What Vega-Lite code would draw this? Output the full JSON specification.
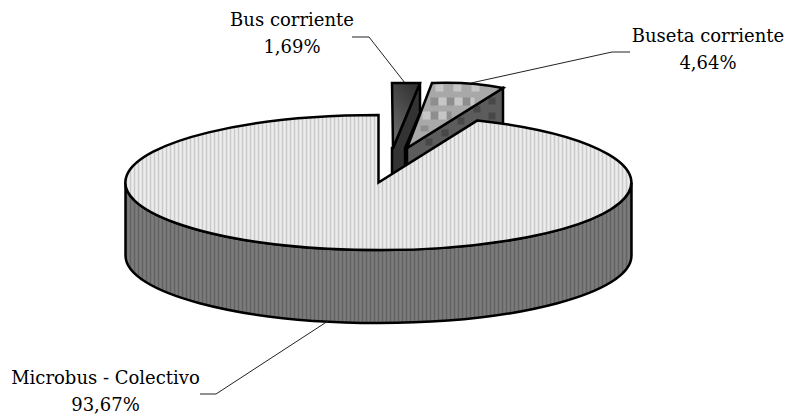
{
"$schema":"https://vega.github.io/schema/vega-lite/v6.json",
"width":788,"height":415,"padding":0,
"autosize":{"type":"fit","contains":"padding"},
"background":"white",
"data":{"values":[
{"segment":"Microbus - Colectivo","share":93.67,"part":"side fill"},
{"segment":"Microbus - Colectivo","share":93.67,"part":"side stripes"},
{"segment":"Microbus - Colectivo","share":93.67,"part":"side outline"},
{"segment":"Bus corriente","share":1.69,"part":"bus wall"},
{"segment":"Bus corriente","share":1.69,"part":"bus face"},
{"segment":"Buseta corriente","share":4.64,"part":"buseta wall"},
{"segment":"Buseta corriente","share":4.64,"part":"buseta wall checks"},
{"segment":"Buseta corriente","share":4.64,"part":"buseta face"},
{"segment":"Buseta corriente","share":4.64,"part":"buseta dark checks"},
{"segment":"Buseta corriente","share":4.64,"part":"buseta light checks"},
{"segment":"Buseta corriente","share":4.64,"part":"buseta outline"},
{"segment":"Microbus - Colectivo","share":93.67,"part":"top fill"},
{"segment":"Microbus - Colectivo","share":93.67,"part":"top stripes"},
{"segment":"Microbus - Colectivo","share":93.67,"part":"top outline"},
{"segment":"Bus corriente","share":1.69,"part":"bus leader"},
{"segment":"Buseta corriente","share":4.64,"part":"buseta leader"},
{"segment":"Microbus - Colectivo","share":93.67,"part":"microbus leader"}
]},
"encoding":{
"x":{"datum":0,"type":"quantitative","axis":null,"scale":{"domain":[-378.5,409.5],"nice":false,"zero":false}},
"y":{"datum":0,"type":"quantitative","axis":null,"scale":{"domain":[-182.5,232.5],"nice":false,"zero":false,"reverse":true}}
},
"layer":[
{"transform":[{"filter":"datum.part !== 'bus face'"}],
"mark":{"type":"point","filled":true,"opacity":1,"size":4},
"encoding":{
"shape":{"field":"part","type":"nominal","legend":null,"scale":{
"domain":["side fill","side stripes","side outline","bus wall","buseta wall","buseta wall checks","buseta face","buseta dark checks","buseta light checks","buseta outline","top fill","top stripes","top outline","bus leader","buseta leader","microbus leader"],
"range":[
"M-253 0V73A253 67.5 0 0 0 253 73V0A253 67.5 0 0 1 -253 0Z",
"M-252 6v73M-248 13v73M-244 18v73M-240 21v73M-236 24v73M-232 27v73M-228 29v73M-224 31v73M-220 33v73M-216 35v73M-212 37v73M-208 38v73M-204 40v73M-200 41v73M-196 43v73M-192 44v73M-188 45v73M-184 46v73M-180 47v73M-176 48v73M-172 49v73M-168 50v73M-164 51v73M-160 52v73M-156 53v73M-152 54v73M-148 55v73M-144 55v73M-140 56v73M-136 57v73M-132 58v73M-128 58v73M-124 59v73M-120 59v73M-116 60v73M-112 60v73M-108 61v73M-104 61v73M-100 62v73M-96 62v73M-92 63v73M-88 63v73M-84 64v73M-80 64v73M-76 64v73M-72 65v73M-68 65v73M-64 65v73M-60 66v73M-56 66v73M-52 66v73M-48 66v73M-44 66v73M-40 67v73M-36 67v73M-32 67v73M-28 67v73M-24 67v73M-20 67v73M-16 67v73M-12 67v73M-8 67v73M-4 67v73M0 67v73M4 67v73M8 67v73M12 67v73M16 67v73M20 67v73M24 67v73M28 67v73M32 67v73M36 67v73M40 67v73M44 66v73M48 66v73M52 66v73M56 66v73M60 66v73M64 65v73M68 65v73M72 65v73M76 64v73M80 64v73M84 64v73M88 63v73M92 63v73M96 62v73M100 62v73M104 61v73M108 61v73M112 60v73M116 60v73M120 59v73M124 59v73M128 58v73M132 58v73M136 57v73M140 56v73M144 55v73M148 55v73M152 54v73M156 53v73M160 52v73M164 51v73M168 50v73M172 49v73M176 48v73M180 47v73M184 46v73M188 45v73M192 44v73M196 43v73M200 41v73M204 40v73M208 38v73M212 37v73M216 35v73M220 33v73M224 31v73M228 29v73M232 27v73M236 24v73M240 21v73M244 18v73M248 13v73M252 6v73",
"M-253 0V73A253 67.5 0 0 0 253 73V0A253 67.5 0 0 1 -253 0Z",
"M14.5 -34.5L41.5 -99.5V-69.5L26.5 -34.5V-15.5L13.5 -7V-34.5Z",
"M28.5 -34.5L124.5 -94.5V-55L28.5 -8Z",
"M47 -44h7v7h-7ZM63 -53h7v7h-7ZM79 -65h7v7h-7ZM95 -77h7v7h-7ZM110 -85h7v7h-7ZM110 -70h7v7h-7Z",
"M28.5 -34.5L53.5 -99.5Q92 -101 124.5 -94.5Z",
"M52 -85h8v8h-8ZM68 -85h8v8h-8ZM84 -85h8v8h-8ZM52 -71h8v8h-8ZM68 -71h5v8h-5ZM42 -57h8v6h-8Z",
"M57 -99h8v8h-8ZM75 -99h8v8h-8ZM93 -98h8v7h-8ZM60 -85h8v8h-8ZM76 -85h8v8h-8ZM92 -85h4v8h-4ZM44 -71h8v8h-8ZM60 -71h8v8h-8Z",
"M28.5 -34.5L53.5 -99.5Q92 -101 124.5 -94.5Z",
"M0 0V-67.5A253 67.5 0 1 0 99 -62.1Z",
"M-252 -6V6M-248 -13V13M-244 -18V18M-240 -21V21M-236 -24V24M-232 -27V27M-228 -29V29M-224 -31V31M-220 -33V33M-216 -35V35M-212 -37V37M-208 -38V38M-204 -40V40M-200 -41V41M-196 -43V43M-192 -44V44M-188 -45V45M-184 -46V46M-180 -47V47M-176 -48V48M-172 -49V49M-168 -50V50M-164 -51V51M-160 -52V52M-156 -53V53M-152 -54V54M-148 -55V55M-144 -55V55M-140 -56V56M-136 -57V57M-132 -58V58M-128 -58V58M-124 -59V59M-120 -59V59M-116 -60V60M-112 -60V60M-108 -61V61M-104 -61V61M-100 -62V62M-96 -62V62M-92 -63V63M-88 -63V63M-84 -64V64M-80 -64V64M-76 -64V64M-72 -65V65M-68 -65V65M-64 -65V65M-60 -66V66M-56 -66V66M-52 -66V66M-48 -66V66M-44 -66V66M-40 -67V67M-36 -67V67M-32 -67V67M-28 -67V67M-24 -67V67M-20 -67V67M-16 -67V67M-12 -67V67M-8 -67V67M-4 -67V67M0 0V67M4 -3V67M8 -5V67M12 -8V67M16 -10V67M20 -13V67M24 -15V67M28 -18V67M32 -20V67M36 -23V67M40 -25V67M44 -28V66M48 -30V66M52 -33V66M56 -35V66M60 -38V66M64 -40V65M68 -43V65M72 -45V65M76 -48V64M80 -50V64M84 -53V64M88 -55V63M92 -58V63M96 -60V62M100 -62V62M104 -61V61M108 -61V61M112 -60V60M116 -60V60M120 -59V59M124 -59V59M128 -58V58M132 -58V58M136 -57V57M140 -56V56M144 -55V55M148 -55V55M152 -54V54M156 -53V53M160 -52V52M164 -51V51M168 -50V50M172 -49V49M176 -48V48M180 -47V47M184 -46V46M188 -45V45M192 -44V44M196 -43V43M200 -41V41M204 -40V40M208 -38V38M212 -37V37M216 -35V35M220 -33V33M224 -31V31M228 -29V29M232 -27V27M236 -24V24M240 -21V21M244 -18V18M248 -13V13M252 -6V6",
"M0 0V-67.5A253 67.5 0 1 0 99 -62.1Z",
"M-26.5 -145.5H-9.5L26.5 -99.5",
"M92.5 -99.5L233.5 -130.5H251.5",
"M-50.5 138.5L-162.5 211.5H-178.5"
]}},
"fill":{"field":"part","type":"nominal","legend":null,"scale":{
"domain":["side fill","side stripes","side outline","bus wall","buseta wall","buseta wall checks","buseta face","buseta dark checks","buseta light checks","buseta outline","top fill","top stripes","top outline","bus leader","buseta leader","microbus leader"],
"range":["#7c7c7c","transparent","transparent","#333333","#5c5c5c","#484848","#a8a8a8","#8e8e8e","#c6c6c6","transparent","#ececec","transparent","transparent","transparent","transparent","transparent"]}},
"stroke":{"field":"part","type":"nominal","legend":null,"scale":{
"domain":["side fill","side stripes","side outline","bus wall","buseta wall","buseta wall checks","buseta face","buseta dark checks","buseta light checks","buseta outline","top fill","top stripes","top outline","bus leader","buseta leader","microbus leader"],
"range":["transparent","#626262","black","black","black","transparent","transparent","transparent","transparent","black","transparent","#c9c9c9","black","#222222","#222222","#222222"]}},
"strokeWidth":{"field":"part","type":"nominal","legend":null,"scale":{"type":"ordinal",
"domain":["side fill","side stripes","side outline","bus wall","buseta wall","buseta wall checks","buseta face","buseta dark checks","buseta light checks","buseta outline","top fill","top stripes","top outline","bus leader","buseta leader","microbus leader"],
"range":[0,1.5,2.5,2.5,2.5,0,0,0,0,2.5,0,1.5,2.5,1,1,1]}}
}},
{"transform":[{"filter":"datum.part === 'bus face'"}],
"mark":{"type":"point","filled":true,"opacity":1,"size":4,"stroke":"black","strokeWidth":2.5,"shape":"M13.5 -99.5H41.5L14.5 -34.5Z",
"fill":{"gradient":"linear","x1":0.7,"y1":0,"x2":0.2,"y2":1,"stops":[{"offset":0,"color":"#333333"},{"offset":1,"color":"#6e6e6e"}]}}},
{"data":{"values":[{"segment":"Bus corriente","share":1.69,"label":["Bus corriente","1,69%"]}]},
"mark":{"type":"text","font":"DejaVu Serif","fontSize":18,"color":"black","baseline":"middle","align":"center","lineHeight":26.5},
"encoding":{"x":{"datum":-86.5,"type":"quantitative"},"y":{"datum":-161.5,"type":"quantitative"},"text":{"field":"label"}}},
{"data":{"values":[{"segment":"Buseta corriente","share":4.64,"label":["Buseta corriente","4,64%"]}]},
"mark":{"type":"text","font":"DejaVu Serif","fontSize":18,"color":"black","baseline":"middle","align":"center","lineHeight":26.5},
"encoding":{"x":{"datum":329.5,"type":"quantitative"},"y":{"datum":-145.5,"type":"quantitative"},"text":{"field":"label"}}},
{"data":{"values":[{"segment":"Microbus - Colectivo","share":93.67,"label":["Microbus - Colectivo","93,67%"]}]},
"mark":{"type":"text","font":"DejaVu Serif","fontSize":18,"color":"black","baseline":"middle","align":"center","lineHeight":26.5},
"encoding":{"x":{"datum":-273,"type":"quantitative"},"y":{"datum":196.5,"type":"quantitative"},"text":{"field":"label"}}}
],
"config":{"view":{"stroke":null}}
}
